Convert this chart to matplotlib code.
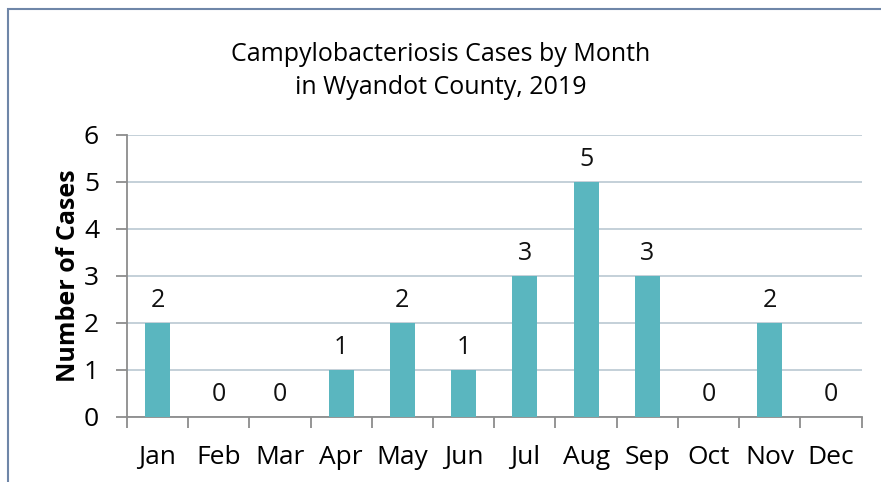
import matplotlib

matplotlib.use("Agg")
import matplotlib.pyplot as plt  # noqa: E402
import numpy as np  # noqa: E402
from matplotlib.patches import Rectangle  # noqa: E402

plt.rcParams["font.family"] = ["Open Sans", "DejaVu Sans"]

months = ["Jan", "Feb", "Mar", "Apr", "May", "Jun",
          "Jul", "Aug", "Sep", "Oct", "Nov", "Dec"]
cases = [2, 0, 0, 1, 2, 1, 3, 5, 3, 0, 2, 0]
y_ticks = [0, 1, 2, 3, 4, 5, 6]

bar_color = "#5AB6BF"
grid_color = "#BFCDD6"
axis_color = "#8C8C8C"

fig = plt.figure(figsize=(8.81, 4.82), dpi=100)
ax = fig.add_axes([0.144, 0.135, 0.834, 0.585])

x = np.arange(len(months))
bars = ax.bar(x, cases, width=0.41, color=bar_color, zorder=3)
for xi, v in zip(x, cases):
    ax.annotate(str(v), (xi, v), xytext=(0, 7), textcoords="offset points",
                ha="center", va="bottom", fontsize=18, color="#111111")

ax.set_xlim(-0.5, len(months) - 0.5)
ax.set_ylim(0, 6)
ax.set_yticks(y_ticks)
ax.set_yticklabels([str(t) for t in y_ticks], fontsize=19)
ax.yaxis.grid(True, color=grid_color, linewidth=1.3, zorder=0)
ax.set_axisbelow(True)

# month labels centred, tick marks at category boundaries
ax.set_xticks(x)
ax.set_xticklabels(months, fontsize=19)
ax.tick_params(axis="x", length=0, pad=20)
ax.set_xticks(np.arange(-0.5, len(months)), minor=True)
ax.tick_params(axis="x", which="minor", length=8, width=1.3, color=axis_color, direction="out")
ax.tick_params(axis="y", length=8, width=1.3, color=axis_color, pad=12)

for side in ["top", "right"]:
    ax.spines[side].set_visible(False)
for side in ["left", "bottom"]:
    ax.spines[side].set_color(axis_color)
    ax.spines[side].set_linewidth(1.3)

ax.set_ylabel("Number of Cases", fontsize=18, fontweight="bold", labelpad=2)
fig.text(0.5, 0.853, "Campylobacteriosis Cases by Month\nin Wyandot County, 2019",
         ha="center", va="center", fontsize=18, linespacing=1.45)

# outer chart border (only left/top edges fall inside the image)
fig.patches.append(Rectangle((8 / 881, -0.1), 1.2, 1 - 9 / 482 + 0.1,
                             transform=fig.transFigure, fill=False,
                             edgecolor="#6F86A8", linewidth=1.5))

fig.savefig("out.png", dpi=100)
plt.close(fig)
